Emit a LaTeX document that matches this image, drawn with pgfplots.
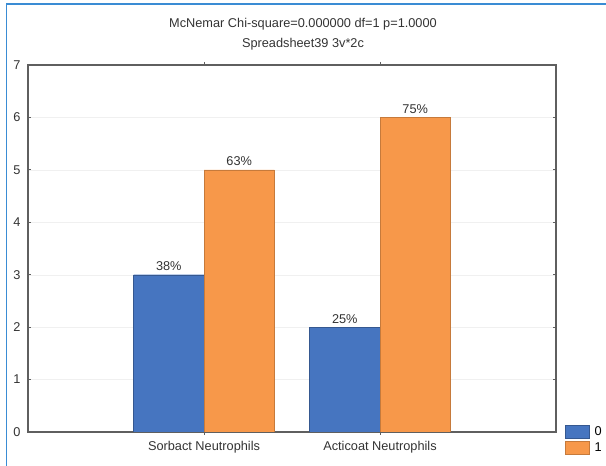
\documentclass[border=0pt]{standalone}
\usepackage{fontspec}
\setmainfont{Liberation Sans}
\usepackage{pgfplots}
\pgfplotsset{compat=1.18}
\definecolor{barblue}{RGB}{70,117,192}
\definecolor{barorange}{RGB}{247,152,74}
\definecolor{frameblue}{RGB}{58,140,212}
\definecolor{axisgray}{RGB}{95,95,95}
\begin{document}
\begin{tikzpicture}[x=1bp,y=1bp]
\path[use as bounding box] (0,0) rectangle (606,466);
\draw[frameblue, line width=1.5bp] (6.5,0) -- (6.5,462) -- (606,462);
\begin{axis}[
  at={(28bp,34bp)}, anchor=south west,
  scale only axis, width=528bp, height=367bp,
  xmin=0, xmax=3, ymin=0, ymax=7,
  xtick={1,2}, xticklabels={Sorbact Neutrophils, Acticoat Neutrophils},
  ytick={0,1,2,3,4,5,6,7},
  tick align=inside, major tick length=3bp,
  ymajorgrids, grid style={black!6, line width=0.4bp},
  axis line style={axisgray, line width=1.6bp},
  tick style={axisgray, line width=0.8bp},
  ybar, bar width=0.4,
  font=\fontsize{12.8}{15}\selectfont,
  ticklabel style={font=\fontsize{12.8}{15}\selectfont, text=black!80},
  xticklabel style={yshift=-3bp},
  yticklabel style={xshift=-4bp},
  /pgf/number format/assume math mode=true,
  title={McNemar Chi-square=0.000000 df=1 p=1.0000\\Spreadsheet39 3v*2c},
  title style={align=center, font=\fontsize{12.8}{20.6}\selectfont, text=black!80, at={(0.5,1)}, anchor=south, yshift=5bp, xshift=11bp},
  nodes near coords, point meta=explicit symbolic,
  nodes near coords style={font=\fontsize{12.8}{15}\selectfont, text=black!80, anchor=base, yshift=4bp},
  legend style={at={(1,0)}, anchor=west, xshift=9bp, yshift=-7.5bp, draw=none, fill=none,
    font=\fontsize{12.8}{15}\selectfont, row sep=2bp, column sep=3bp, inner sep=0pt},
  legend image code/.code={\draw[#1] (0bp,-6.5bp) rectangle (24bp,6.5bp);},
]
\addplot[fill=barblue, draw=barblue!75!black, bar shift=-0.2] coordinates {(1,3) [38\%] (2,2) [25\%]};
\addplot[fill=barorange, draw=barorange!80!black, bar shift=0.2] coordinates {(1,5) [63\%] (2,6) [75\%]};
\legend{0,1}
\end{axis}
\end{tikzpicture}
\end{document}
